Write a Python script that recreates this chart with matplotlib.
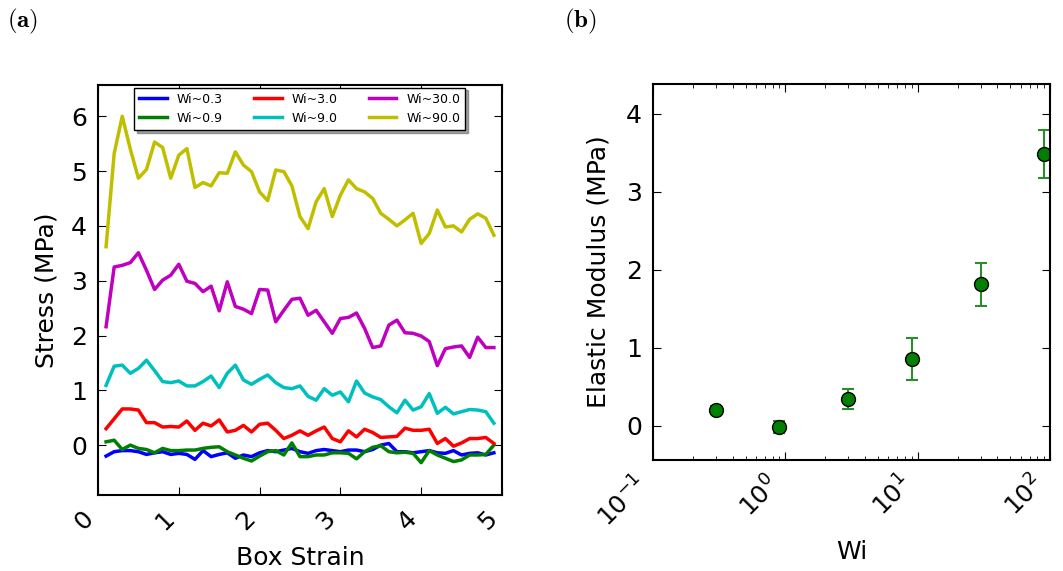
import numpy as np
import matplotlib
matplotlib.use('Agg')
import matplotlib.pyplot as plt

plt.rcParams['font.family'] = 'DejaVu Sans'
plt.rcParams['mathtext.fontset'] = 'dejavusans'
plt.rcParams['xtick.direction'] = 'in'
plt.rcParams['ytick.direction'] = 'in'
plt.rcParams['xtick.top'] = True
plt.rcParams['ytick.right'] = True
plt.rcParams['xtick.major.size'] = 6
plt.rcParams['ytick.major.size'] = 6
plt.rcParams['xtick.minor.size'] = 3
plt.rcParams['ytick.minor.size'] = 3
plt.rcParams['xtick.major.pad'] = 8
plt.rcParams['ytick.major.pad'] = 8
plt.rcParams['axes.linewidth'] = 1.5

# box strain, 0.1 .. 4.9
strain = np.arange(1, 50) / 10.0

stress_03 = [-0.20, -0.12, -0.10, -0.10, -0.12, -0.17, -0.14, -0.12, -0.17, -0.15,
             -0.17, -0.26, -0.10, -0.21, -0.17, -0.14, -0.24, -0.18, -0.21, -0.14,
             -0.10, -0.12, -0.09, -0.06, -0.12, -0.15, -0.10, -0.08, -0.10, -0.12,
             -0.09, -0.09, -0.12, -0.08, 0.00, 0.03, -0.12, -0.12, -0.14, -0.12,
             -0.10, -0.14, -0.15, -0.10, -0.18, -0.15, -0.14, -0.18, -0.14]
stress_09 = [0.06, 0.09, -0.08, 0.00, -0.06, -0.08, -0.14, -0.06, -0.10, -0.10,
             -0.09, -0.09, -0.06, -0.04, -0.03, -0.12, -0.18, -0.24, -0.29, -0.20,
             -0.12, -0.10, -0.18, 0.04, -0.21, -0.21, -0.18, -0.18, -0.14, -0.14,
             -0.15, -0.25, -0.12, -0.04, -0.01, -0.12, -0.14, -0.13, -0.15, -0.32,
             -0.10, -0.18, -0.24, -0.30, -0.27, -0.18, -0.18, -0.17, 0.00]
stress_3 = [0.30, 0.48, 0.66, 0.66, 0.64, 0.41, 0.41, 0.33, 0.34, 0.33,
            0.44, 0.27, 0.40, 0.35, 0.46, 0.24, 0.27, 0.36, 0.24, 0.38,
            0.40, 0.27, 0.12, 0.18, 0.26, 0.18, 0.26, 0.33, 0.12, 0.06,
            0.26, 0.15, 0.29, 0.23, 0.14, 0.15, 0.16, 0.31, 0.27, 0.27,
            0.29, 0.03, 0.12, -0.02, 0.04, 0.12, 0.12, 0.14, 0.03]
stress_9 = [1.09, 1.44, 1.46, 1.31, 1.40, 1.55, 1.36, 1.16, 1.14, 1.17,
            1.08, 1.08, 1.16, 1.26, 1.05, 1.31, 1.46, 1.19, 1.11, 1.20,
            1.28, 1.14, 1.05, 1.03, 1.08, 0.89, 0.82, 1.03, 0.91, 0.97,
            0.79, 1.17, 0.95, 0.88, 0.83, 0.70, 0.59, 0.82, 0.64, 0.70,
            0.94, 0.58, 0.69, 0.57, 0.61, 0.65, 0.64, 0.61, 0.40]
stress_30 = [2.16, 3.25, 3.28, 3.33, 3.51, 3.19, 2.84, 3.01, 3.10, 3.30,
             2.99, 2.95, 2.80, 2.90, 2.45, 2.98, 2.53, 2.48, 2.40, 2.84,
             2.83, 2.25, 2.46, 2.66, 2.68, 2.37, 2.46, 2.25, 2.04, 2.31,
             2.33, 2.41, 2.13, 1.78, 1.81, 2.19, 2.28, 2.05, 2.04, 1.99,
             1.89, 1.45, 1.76, 1.79, 1.81, 1.60, 1.97, 1.78, 1.78]
stress_90 = [3.62, 5.32, 6.00, 5.40, 4.87, 5.03, 5.53, 5.43, 4.87, 5.29,
             5.41, 4.70, 4.79, 4.73, 4.97, 4.96, 5.35, 5.11, 4.99, 4.62,
             4.46, 5.02, 4.99, 4.73, 4.17, 3.95, 4.44, 4.68, 4.17, 4.56,
             4.84, 4.68, 4.62, 4.50, 4.23, 4.12, 4.00, 4.11, 4.23, 3.68,
             3.86, 4.29, 3.98, 4.00, 3.89, 4.12, 4.22, 4.14, 3.83]

labels = ['Wi~0.3', 'Wi~0.9', 'Wi~3.0', 'Wi~9.0', 'Wi~30.0', 'Wi~90.0']
colors = ['b', 'g', 'r', 'c', 'm', 'y']

wi = [0.3, 0.9, 3.0, 9.0, 30.0, 90.0]
modulus = [0.20, -0.02, 0.34, 0.85, 1.81, 3.48]
modulus_err = [0.05, 0.08, 0.13, 0.27, 0.27, 0.31]

fig = plt.figure(figsize=(10.63, 5.71), dpi=100)

# (a) stress vs strain
ax1 = fig.add_axes([0.0922, 0.1331, 0.38, 0.718])
series = [stress_03, stress_09, stress_3, stress_9, stress_30, stress_90]
for s, lab, c in zip(series, labels, colors):
    ax1.plot(strain, s, color=c, lw=2.5, label=lab)
ax1.set_xlim(0, 5)
ax1.set_ylim(-0.91, 6.57)
ax1.set_xticks([0, 1, 2, 3, 4, 5])
ax1.set_yticks([0, 1, 2, 3, 4, 5, 6])
ax1.tick_params(labelsize=18)
for t in ax1.get_xticklabels():
    t.set_rotation(45)
    t.set_ha('right')
ax1.set_xlabel('Box Strain', fontsize=18, labelpad=8)
ax1.set_ylabel('Stress (MPa)', fontsize=18, labelpad=9)
ax1.legend(loc='upper center', ncol=3, fontsize=9, frameon=True, fancybox=False,
           shadow=True, edgecolor='k', framealpha=1, borderaxespad=0.2,
           handlelength=2.2, columnspacing=2.5, bbox_to_anchor=(0.5, 1.0))

# (b) modulus vs Wi
ax2 = fig.add_axes([0.6143, 0.1944, 0.3735, 0.6585])
ax2.errorbar(wi, modulus, yerr=modulus_err, fmt='none', ecolor='#2e8b2e',
             elinewidth=1.5, capsize=4, capthick=1.5)
ax2.plot(wi, modulus, 'o', color='g', markeredgecolor='k', markersize=10)
ax2.set_xscale('log')
ax2.set_xlim(0.1, 100)
ax2.set_ylim(-0.44, 4.38)
ax2.set_yticks([0, 1, 2, 3, 4])
ax2.tick_params(labelsize=18)
for t in ax2.get_xticklabels():
    t.set_rotation(45)
    t.set_ha('right')
ax2.set_xlabel('Wi', fontsize=18, labelpad=6)
ax2.set_ylabel('Elastic Modulus (MPa)', fontsize=18, labelpad=11)

fig.text(0.007, 0.962, r'$\mathbf{(a)}$', fontsize=18, va='center', math_fontfamily='cm')
fig.text(0.531, 0.962, r'$\mathbf{(b)}$', fontsize=18, va='center', math_fontfamily='cm')

fig.savefig('out.png', dpi=100)
